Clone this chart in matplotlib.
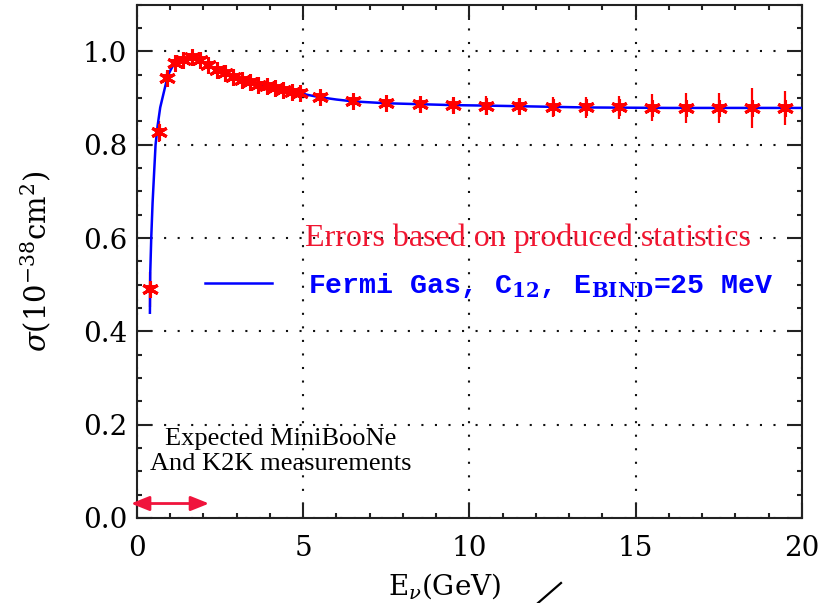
'''Quasi-elastic cross section on carbon: simulated points with statistical
   errors against the Fermi gas curve'''

import matplotlib
matplotlib.use('Agg')
import matplotlib.pyplot as plt
from matplotlib.ticker import MultipleLocator

# generated sample, energy in GeV, sigma in 1e-38 cm^2
e_points = [0.4, 0.65, 0.9, 1.15, 1.4, 1.65, 1.9, 2.15, 2.4, 2.65, 2.9, 3.15,
            3.4, 3.65, 3.9, 4.15, 4.4, 4.65, 4.9,
            5.5, 6.5, 7.5, 8.5, 9.5, 10.5, 11.5, 12.5, 13.5, 14.5, 15.5, 16.5,
            17.5, 18.5, 19.5]
sigma_points = [0.49, 0.828, 0.943, 0.976, 0.982, 0.988, 0.981, 0.971, 0.961,
                0.954, 0.946, 0.939, 0.934, 0.929, 0.925, 0.921, 0.918, 0.914,
                0.911,
                0.902, 0.893, 0.889, 0.887, 0.885, 0.884, 0.884, 0.881, 0.880,
                0.880, 0.879, 0.879, 0.879, 0.879, 0.879]
sigma_errors = [0.037, 0.023, 0.012, 0.008, 0.007, 0.007, 0.007, 0.007, 0.007,
                0.007, 0.007, 0.007, 0.007, 0.007, 0.007, 0.007, 0.007, 0.007,
                0.007,
                0.008, 0.009, 0.010, 0.012, 0.014, 0.020, 0.015, 0.022, 0.022,
                0.024, 0.029, 0.032, 0.032, 0.043, 0.036]

# Fermi gas prediction
e_curve = [0.39, 0.40, 0.43, 0.47, 0.52, 0.56, 0.62, 0.70, 0.79, 0.86, 0.94,
           1.04, 1.14, 1.30, 1.50, 1.70, 1.90, 2.15, 2.40, 2.65, 2.90, 3.15,
           3.40, 3.65, 3.90, 4.15, 4.40, 4.65, 4.90, 5.13, 5.5, 6.0, 6.5, 7.5,
           8.5, 9.5, 10.5, 12.0, 13.5, 16.0, 20.0]
sigma_curve = [0.44, 0.525, 0.60, 0.675, 0.745, 0.80, 0.84, 0.88, 0.907, 0.928,
               0.95, 0.964, 0.976, 0.983, 0.986, 0.985, 0.980, 0.971, 0.961,
               0.954, 0.946, 0.939, 0.934, 0.929, 0.925, 0.921, 0.918, 0.914,
               0.911, 0.907, 0.902, 0.897, 0.893, 0.889, 0.887, 0.885, 0.884,
               0.882, 0.880, 0.879, 0.879]

# energy range of the MiniBooNE / K2K measurements
range_lo, range_hi = -0.18, 2.17

RED = '#ff0000'
TXT_RED = '#f01530'
BLUE = '#0000ff'


def make_plot():
    plt.rcParams['font.family'] = 'DejaVu Serif'
    plt.rcParams['mathtext.fontset'] = 'dejavuserif'

    fig = plt.figure(figsize=(8.2, 6.03), dpi=100)
    ax = fig.add_axes([0.167, 0.141, 0.811, 0.851])

    line, = ax.plot(e_curve, sigma_curve, color=BLUE, lw=1.8, zorder=3)
    ax.errorbar(e_points, sigma_points, yerr=sigma_errors, fmt='none',
                ecolor=RED, elinewidth=1.6, capsize=0, zorder=2)
    ax.plot(e_points, sigma_points, ls='none', marker=(6, 2, 0), ms=12,
            mew=2.2, color=RED, zorder=4)
    ax.plot(e_points, sigma_points, ls='none', marker='s', ms=4,
            mfc='none', mec=RED, mew=1.4, zorder=4)

    ax.set_xlim(0, 20)
    ax.set_ylim(0, 1.1)
    ax.xaxis.set_major_locator(MultipleLocator(5))
    ax.xaxis.set_minor_locator(MultipleLocator(1))
    ax.yaxis.set_major_locator(MultipleLocator(0.2))
    ax.yaxis.set_minor_locator(MultipleLocator(0.05))
    ax.yaxis.set_major_formatter(lambda v, pos: f'{v:.1f}')

    ax.tick_params(which='both', direction='in', top=True, right=True,
                   width=1.5, color='#222222')
    ax.tick_params(which='major', length=11, labelsize=20)
    ax.tick_params(which='minor', length=3.5)
    ax.tick_params(axis='x', which='major', pad=12)
    ax.tick_params(axis='y', which='major', pad=7)
    for sp in ax.spines.values():
        sp.set_linewidth(1.5)
        sp.set_color('#222222')

    ax.grid(True, which='major', color='#111111', lw=1.5,
            ls=(0, (1, 5.5)))

    ax.set_xlabel(r'E$_{\nu}$(GeV)', fontsize=20)
    ax.xaxis.set_label_coords(0.463, -0.133)
    ax.xaxis.label.set_va('center')
    ax.set_ylabel(r'$\sigma$(10$^{-38}$cm$^{2}$)', fontsize=21)
    ax.yaxis.set_label_coords(-0.152, 0.5)
    ax.yaxis.label.set_rotation_mode('default')
    ax.yaxis.label.set_va('center')

    ax.text(5.06, 0.60, 'Errors based on produced statistics',
            family='Liberation Serif', fontsize=23, color=TXT_RED,
            va='center', ha='left')
    leg = ax.legend([line],
                    [r'Fermi Gas, C$_{\mathbf{12}}$, E$_{\mathbf{BIND}}$=25 MeV'],
                    loc='center left', bbox_to_anchor=(0.102, 0.454),
                    frameon=False, borderpad=0, borderaxespad=0,
                    handlelength=2.4, handletextpad=1.25,
                    prop={'family': 'Liberation Mono', 'weight': 'bold',
                          'size': 20.3})
    for t in leg.get_texts():
        t.set_color(BLUE)

    ax.text(4.31, 0.142, 'Expected MiniBooNe\nAnd K2K measurements',
            family='Liberation Serif', fontsize=19, ha='center', va='center',
            multialignment='center', linespacing=1.15)
    ax.annotate('', xy=(range_lo, 0.031), xytext=(range_hi, 0.031),
                arrowprops=dict(arrowstyle='<|-|>,head_length=0.55,head_width=0.22',
                                color='#f0143c', lw=2, mutation_scale=20,
                                shrinkA=0, shrinkB=0),
                annotation_clip=False, zorder=5)

    # pointer stroke below the axis
    fig.add_artist(plt.Line2D([538 / 820, 561 / 820], [0, 20 / 603],
                              color='black', lw=1.6))

    fig.savefig('out.png', dpi=100)


if __name__ == "__main__":
    make_plot()
